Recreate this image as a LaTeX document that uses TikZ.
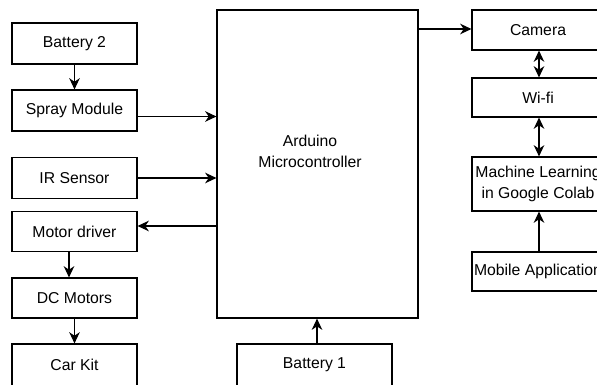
\documentclass[tikz,border=0pt]{standalone}
\usepackage{fontspec}
\setmainfont{Liberation Sans}
\usetikzlibrary{arrows.meta}
\tikzset{
  blk/.style={draw, line width=0.8pt, inner sep=0pt, align=center,
    font=\fontsize{11.2}{15}\selectfont},
  conn/.style={line width=0.8pt, -{Stealth[length=8pt,width=7.5pt,inset=2.5pt]}},
  dbl/.style={line width=0.8pt, {Stealth[length=8pt,width=7.5pt,inset=2.5pt]}-{Stealth[length=8pt,width=7.5pt,inset=2.5pt]}}
}
\begin{document}
\begin{tikzpicture}[x=0.025cm,y=-0.025cm]
  \useasboundingbox (0,0) rectangle (597,385);
  \clip (0,0) rectangle (597,385);
  % left column
  \node[blk, minimum width=3.125cm, minimum height=1.025cm] (bat2) at (74.5,43.5) {Battery 2};
  \node[blk, minimum width=3.125cm, minimum height=1.025cm] (spray) at (74.5,110.5) {Spray Module};
  \node[blk, minimum width=3.125cm, minimum height=1.025cm] (ir) at (74.5,178) {IR Sensor};
  \node[blk, minimum width=3.125cm, minimum height=1cm] (motor) at (74.5,231.5) {Motor driver};
  \node[blk, minimum width=3.125cm, minimum height=1cm] (dc) at (74.5,298) {DC Motors};
  \node[blk, minimum width=3.125cm, minimum height=1.05cm] (car) at (74.5,365) {Car Kit};
  % middle
  \node[blk, minimum width=5.025cm, minimum height=7.7cm,
    label={[font=\fontsize{11.2}{15}\selectfont, align=center, xshift=-5.3pt, yshift=8.9pt]center:Arduino\\Microcontroller}] (mcu) at (317.5,164) {};
  \node[blk, minimum width=3.875cm, minimum height=1.05cm] (bat1) at (314.5,365) {Battery 1};
  % right column
  \node[blk, minimum width=3.3cm, minimum height=1cm] (cam) at (538,30) {Camera};
  \node[blk, minimum width=3.3cm, minimum height=0.975cm] (wifi) at (538,97.5) {Wi-fi};
  \node[blk, minimum width=3.3cm, minimum height=1.35cm] (ml) at (538,184) {Machine Learning\\in Google Colab};
  \node[blk, minimum width=3.3cm, minimum height=0.975cm] (mob) at (538,271.5) {Mobile Application};
  % connectors
  \draw[conn] (bat2) -- (spray);
  \draw[conn] (spray.east |- 0,116.5) -- (mcu.west |- 0,116.5);
  \draw[conn] (ir) -- (mcu.west |- ir);
  \draw[conn] (mcu.west |- 0,226) -- (motor.east |- 0,226);
  \draw[conn] (motor.south -| 69,0) -- (dc.north -| 69,0);
  \draw[conn] (dc) -- (car);
  \draw[conn] (bat1.north -| 317,0) -- (mcu.south -| 317,0);
  \draw[conn] (mcu.east |- 0,29) -- (cam.west |- 0,29);
  \draw[dbl] (cam.south -| 539,0) -- (wifi.north -| 539,0);
  \draw[dbl] (wifi.south -| 539,0) -- (ml.north -| 539,0);
  \draw[conn] (mob.north -| 539,0) -- (ml.south -| 539,0);
\end{tikzpicture}
\end{document}
